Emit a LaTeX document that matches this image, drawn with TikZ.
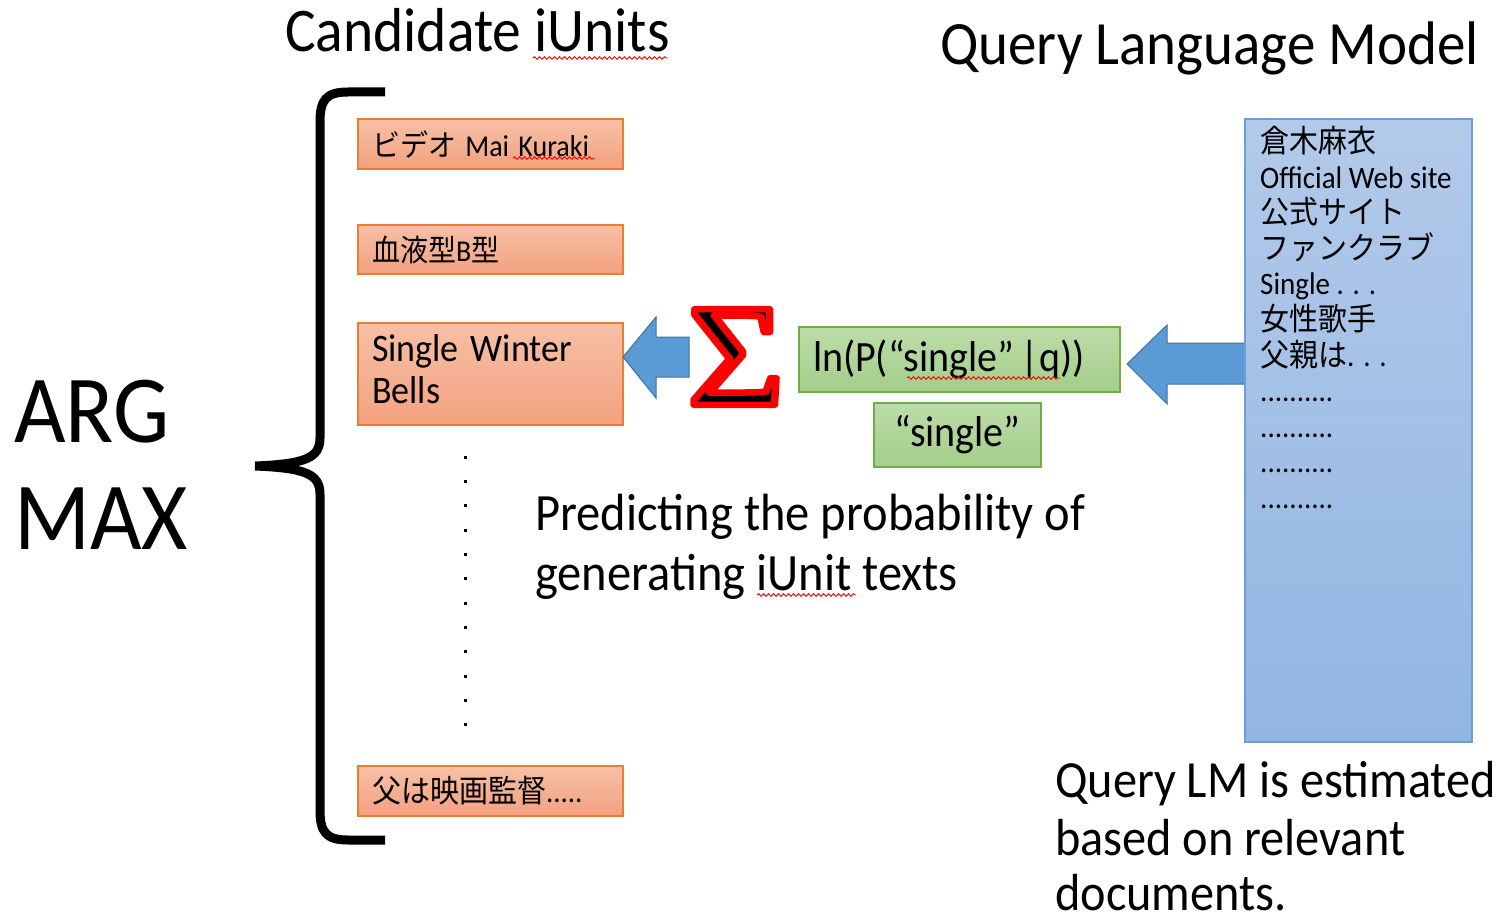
\documentclass[tikz,border=0pt]{standalone}
\usepackage{fontspec}
\usepackage{graphicx}
\usetikzlibrary{decorations.pathmorphing}
\setmainfont{Carlito}
\newfontfamily\jp{Noto Sans CJK JP}
\newfontfamily\sigfont{Liberation Serif}
\newcommand\fsz[1]{\fontsize{#1}{#1}\selectfont}
\newcommand\vs[1]{\scalebox{1}[1.08]{#1}}
\newcommand\dotrow{..........}
\newcommand\outlined[1]{\special{pdf:literal 2 Tr 6.5 w 1 0 0 RG 1 j}#1\special{pdf:literal 0 Tr 1 w 0 0 0 RG}}
\definecolor{orangeB}{HTML}{ED7D31}
\definecolor{oTop}{HTML}{F6C0A6}
\definecolor{oBot}{HTML}{F3A17F}
\definecolor{greenB}{HTML}{70AD47}
\definecolor{gTop}{HTML}{BCDCA9}
\definecolor{gBot}{HTML}{A3CE8A}
\definecolor{blueB}{HTML}{6A9FD8}
\definecolor{bTop}{HTML}{B2CAEA}
\definecolor{bBot}{HTML}{92B5E2}
\definecolor{arrFill}{HTML}{5B9BD5}
\definecolor{arrLine}{HTML}{41719C}
\begin{document}
\begin{tikzpicture}[x=1pt,y=-1pt,
  obox/.style={draw=orangeB, line width=1.8pt, top color=oTop, bottom color=oBot,
    minimum width=265pt, minimum height=#1, inner xsep=14pt, inner ysep=0pt,
    text width=237pt, align=left},
  gbox/.style={draw=greenB, line width=1.5pt, top color=gTop, bottom color=gBot,
    minimum height=#1, inner ysep=0pt},
  lbl/.style={anchor=base west, inner sep=0pt},
  blockarrow/.style={fill=arrFill, draw=arrLine, line width=1pt, line join=miter},
  bracestyle/.style={draw=black, line width=9pt},
  squiggle/.style={draw=red, line width=0.9pt, decorate,
    decoration={snake, segment length=5pt, amplitude=1.3pt}}]
\useasboundingbox (0,0) rectangle (1506,917);

% titles
\node[lbl, font=\fsz{57.5}] (title1) at (285,52) {\vs{Candidate iUnits}};
\node[lbl, font=\fsz{57}] (title2) at (940,65) {\vs{Query Language Model}};

% ARG MAX
\node[lbl, font=\fsz{89}] (arg) at (14,442) {\vs{ARG}};
\node[lbl, font=\fsz{89}] (max) at (14,549) {\vs{MAX}};

% brace
\draw[bracestyle] (385,92) -- (348,92) .. controls (326,92) and (320,100) .. (320,122)
  -- (320,438) .. controls (320,458) and (305,464) .. (255,466)
  .. controls (305,468) and (320,474) .. (320,494)
  -- (320,810) .. controls (320,832) and (326,840) .. (348,840) -- (385,840);

% candidate boxes
\node[obox=50pt, font=\fsz{28}] (c1) at (490.5,144) {\vs{{\jp ビデオ} Mai Kuraki}};
\node[obox=49pt, font=\fsz{28}] (c2) at (490.5,249.5) {\vs{{\jp 血液型}B{\jp 型}}};
\node[obox=102pt, font=\fontsize{36}{38.5}\selectfont] (c3) at (490.5,374)
  {\vs{\begin{tabular}{@{}l@{}}Single Winter\\Bells\end{tabular}}};
\node[obox=50pt, font=\fsz{29}] (c4) at (490.5,791) {\vs{{\jp 父は映画監督}.....}};

% vertical dots
\foreach \k in {0,1,2,3,4,5,6,7,8,9,10,11}
  \fill (463.5,455.5+24.35*\k) rectangle ++(3,3);

% query LM box
\draw[blockarrow] (1127,364) -- (1167,325) -- (1167,343) -- (1250,343) -- (1250,384)
  -- (1167,384) -- (1167,404) -- cycle;
\node[draw=blueB, line width=1.5pt, top color=bTop, bottom color=bBot,
  minimum width=227pt, minimum height=623pt, inner sep=0pt] (qlm) at (1358.5,430.5) {};
\foreach \t [count=\i from 0] in {{\jp 倉木麻衣}, {Official Web site}, {\jp 公式サイト},
    {\jp ファンクラブ}, {Single . . .}, {\jp 女性歌手}, {{\jp 父親は}. . .}, \dotrow, \dotrow, \dotrow, \dotrow}
  \node[lbl, font=\fsz{29}] (q\i) at (1260,152.5+35.6*\i) {\vs{\t}};

% green boxes
\node[gbox=65pt, minimum width=321pt, inner xsep=14pt, text width=293pt, align=left, font=\fsz{40}]
  (g1) at (959.5,359.5) {\vs{ln(P(“single”\,|q))}};
\node[gbox=64pt, minimum width=167pt, font=\fsz{40}] (g2) at (957.5,435) {\vs{“single”}};

% sigma and arrow to candidate
\node[inner sep=0pt, font=\sigfont\fsz{146}] (sigma) at (736,357) {\scalebox{1.14}[1]{\outlined{Σ}}};
\draw[blockarrow] (623,357) -- (656,317) -- (656,337) -- (689,337) -- (689,377)
  -- (656,377) -- (656,398) -- cycle;

% explanation texts
\node[lbl, font=\fsz{48.5}] (p1) at (535,530) {\vs{Predicting the probability of}};
\node[lbl, font=\fsz{48.5}] (p2) at (535,590) {\vs{generating iUnit texts}};
\node[lbl, font=\fsz{48.3}] (e1) at (1055,797) {\vs{Query LM is estimated}};
\node[lbl, font=\fsz{48.3}] (e2) at (1055,855) {\vs{based on relevant}};
\node[lbl, font=\fsz{48.3}] (e3) at (1055,910) {\vs{documents.}};

% spell-check squiggles
\draw[squiggle] (533,58) -- (668,58);
\draw[squiggle] (513,158) -- (595,158);
\draw[squiggle] (907,378) -- (1060,378);
\draw[squiggle] (757,595) -- (856,595);
\end{tikzpicture}
\end{document}
